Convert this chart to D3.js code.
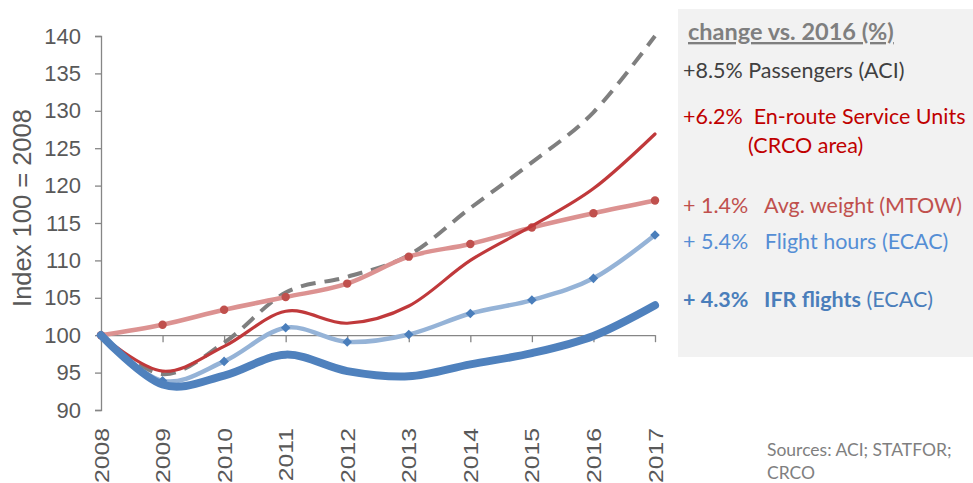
<!DOCTYPE html>
<html>
<head>
<meta charset="utf-8">
<script src="https://cdn.jsdelivr.net/npm/d3@7"></script>
<style>
  html, body { margin: 0; padding: 0; background: #ffffff; }
  svg { display: block; }
</style>
</head>
<body>
<svg id="chart" width="973" height="483"></svg>
<script>
// Traffic indicators, index 100 = 2008
const years = ["2008","2009","2010","2011","2012","2013","2014","2015","2016","2017"];
const passengers   = [100, 94.8, 99.0, 105.7, 107.8, 110.7, 117.0, 123.1, 129.8, 140.0];
const serviceUnits = [100, 95.2, 98.5, 103.2, 101.6, 103.9, 110.0, 114.6, 119.6, 126.9];
const avgWeight    = [100, 101.4, 103.4, 105.1, 106.9, 110.5, 112.2, 114.4, 116.3, 118.0];
const flightHours  = [100, 93.9, 96.5, 101.0, 99.1, 100.1, 102.9, 104.7, 107.6, 113.4];
const ifrFlights   = [100, 93.4, 94.6, 97.4, 95.2, 94.5, 96.1, 97.6, 99.9, 104.0];
const yTicks = [90, 95, 100, 105, 110, 115, 120, 125, 130, 135, 140];

const svg = d3.select("#chart");
const x = d3.scalePoint().domain(years).range([101, 655]);
const y = d3.scaleLinear().domain([90, 140]).range([410, 36]);
const axisColor = "#868686";
const labelColor = "#595959";
const axisFont = "'Liberation Sans', Arial, sans-serif";

// side panel background
svg.append("rect").attr("x", 678).attr("y", 9).attr("width", 295).attr("height", 348)
  .attr("fill", "#f2f2f2");

// y axis
const yAxis = svg.append("g").attr("transform", `translate(${x("2008")},0)`)
  .call(d3.axisLeft(y).tickValues(yTicks).tickSize(6).tickPadding(14).tickFormat(d3.format("d")));
yAxis.select(".domain").attr("stroke", axisColor).attr("stroke-width", 1.3);
yAxis.selectAll(".tick line").attr("stroke", axisColor).attr("stroke-width", 1.3);
yAxis.selectAll(".tick text").attr("fill", labelColor)
  .style("font-family", axisFont).style("font-size", "22px");

// x axis crossing at 100
const xAxis = svg.append("g").attr("transform", `translate(0,${y(100)})`)
  .call(d3.axisBottom(x).tickSize(7).tickSizeOuter(0));
xAxis.select(".domain").attr("stroke", axisColor).attr("stroke-width", 1.3);
xAxis.selectAll(".tick line").attr("stroke", axisColor).attr("stroke-width", 1.3);
xAxis.selectAll(".tick text").remove();

// rotated year labels below the plot
svg.append("g").selectAll("text").data(years).join("text")
  .attr("transform", d => `translate(${x(d) + 7.5},428) rotate(-90) scale(1.18,1)`)
  .attr("text-anchor", "end")
  .attr("fill", labelColor)
  .style("font-family", axisFont).style("font-size", "21px")
  .text(d => d);

// y axis title
svg.append("text")
  .attr("transform", `translate(31,208) rotate(-90)`)
  .attr("text-anchor", "middle")
  .attr("fill", labelColor)
  .style("font-family", axisFont).style("font-size", "25.5px")
  .text("Index 100 = 2008");

const line = d3.line().x((d, i) => x(years[i])).y(d => y(d)).curve(d3.curveCatmullRom.alpha(0));

function drawLine(values, color, width, dash) {
  svg.append("path").datum(values)
    .attr("d", line)
    .attr("fill", "none")
    .attr("stroke", color)
    .attr("stroke-width", width)
    .attr("stroke-linecap", dash ? "butt" : "round")
    .attr("stroke-linejoin", "round")
    .attr("stroke-dasharray", dash || null);
}

drawLine(passengers, "#7f7f7f", 4, "15,9");
drawLine(avgWeight, "#dc9291", 4.5);
svg.append("g").selectAll("circle").data(avgWeight).join("circle")
  .attr("cx", (d, i) => x(years[i])).attr("cy", d => y(d)).attr("r", 4.2)
  .attr("fill", "#c0504d");
drawLine(serviceUnits, "#c0393b", 3.2);
drawLine(flightHours, "#95b3d7", 4.5);
// diamond markers: squares turned by 45 degrees
const marker = d3.symbol().type(d3.symbolSquare).size(46);
svg.append("g").selectAll("path").data(flightHours).join("path")
  .attr("d", marker)
  .attr("transform", (d, i) => `translate(${x(years[i])},${y(d)}) rotate(45)`)
  .attr("fill", "#4a7ebb");
drawLine(ifrFlights, "#4f81bd", 8);

// side panel text
const font = "Lato, 'Open Sans', sans-serif";
function panelText(xp, yp, parts, size) {
  const t = svg.append("text").attr("x", xp).attr("y", yp)
    .style("font-family", font).style("font-size", (size || 21.5) + "px")
    .attr("xml:space", "preserve");
  parts.forEach(p => {
    t.append("tspan").text(p.t).attr("fill", p.c)
      .style("font-weight", p.b ? "bold" : "normal")
      .style("text-decoration", p.u ? "underline" : null);
  });
  return t;
}
panelText(688, 40, [{t: "change vs. 2016 (%)", c: "#7f7f7f", b: true, u: true}], 23.5);
panelText(683, 78, [{t: "+8.5% Passengers (ACI)", c: "#404040"}]);
panelText(683, 124, [{t: "+6.2%  En-route Service Units", c: "#c00000"}]);
panelText(748, 153, [{t: "(CRCO area)", c: "#c00000"}]);
panelText(683, 213, [{t: "+ 1.4%   Avg. weight (MTOW)", c: "#c0504d"}]);
panelText(683, 249, [{t: "+ 5.4%   Flight hours (ECAC)", c: "#558ed5"}]);
panelText(683, 307, [{t: "+ 4.3%   IFR flights", c: "#4a7ebb", b: true}, {t: " (ECAC)", c: "#4a7ebb"}]);
panelText(767, 456, [{t: "Sources: ACI; STATFOR;", c: "#7f7f7f"}], 17.5);
panelText(767, 479, [{t: "CRCO", c: "#7f7f7f"}], 17.5);
</script>
</body>
</html>
